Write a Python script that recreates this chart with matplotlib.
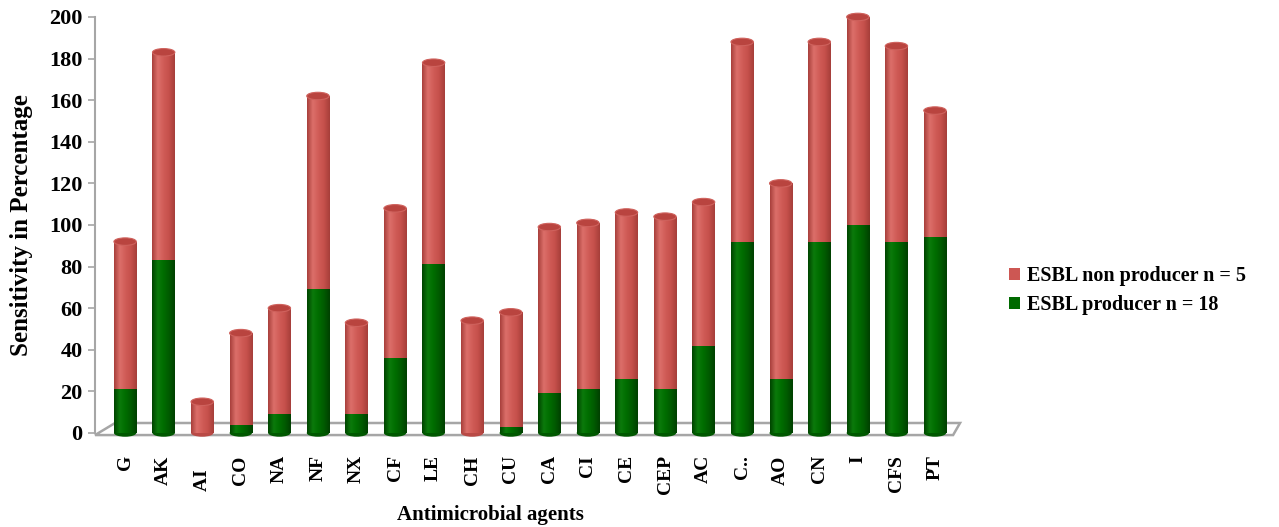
import numpy as np
import matplotlib
matplotlib.use("Agg")
import matplotlib.pyplot as plt
from matplotlib.patches import Ellipse, Polygon, Patch
from matplotlib.colors import LinearSegmentedColormap

plt.rcParams['font.family'] = ['Liberation Serif', 'DejaVu Serif']
plt.rcParams['font.weight'] = 'bold'

# Antimicrobial agents on the x axis
agents = ['G', 'AK', 'AI   ', 'CO', 'NA', 'NF', 'NX', 'CF', 'LE', 'CH', 'CU',
          'CA', 'CI', 'CE', 'CEP', 'AC', 'C..', 'AO', 'CN', 'I', 'CFS', 'PT']

# Sensitivity (%) of the two groups, stacked
producer = [21, 83, 0, 4, 9, 69, 9, 36, 81, 0, 3,
            19, 21, 26, 21, 42, 92, 26, 92, 100, 92, 94]
non_producer = [71, 100, 15, 44, 51, 93, 44, 72, 97, 54, 55,
                80, 80, 80, 83, 69, 96, 94, 96, 100, 94, 61]

yticks = np.arange(0, 201, 20)

green = '#006a00'
red = '#cd5753'

# horizontal shading so the bars look like cylinders
cm_green = LinearSegmentedColormap.from_list(
    'cg', ['#004400', '#0b7a0b', '#006d00', '#005a00', '#004000'])
cm_red = LinearSegmentedColormap.from_list(
    'cr', ['#a8403c', '#dc6f6a', '#d05c57', '#c5504b', '#a63e3a'])
grad = np.linspace(0, 1, 64).reshape(1, -1)

fig = plt.figure(figsize=(12.79, 5.27), dpi=100)
ax = fig.add_axes([0.0743, 0.1784, 0.6724, 0.7894])

x = np.arange(len(agents))
w = 0.58
prod = np.array(producer, dtype=float)
nonp = np.array(non_producer, dtype=float)
top = prod + nonp
eh = 3.6  # ellipse height in data units

# floor of the plot
floor = Polygon([(-0.78, -1.0), (-0.26, 4.8), (21.65, 4.8), (21.47, -1.0)],
                closed=True, facecolor='white', edgecolor='#a6a6a6',
                linewidth=1.8, clip_on=False, zorder=1)
ax.add_patch(floor)

b1 = ax.bar(x, prod, width=w, color=green, linewidth=0, zorder=3)
b2 = ax.bar(x, nonp, bottom=prod, width=w, color=red, linewidth=0, zorder=3)

for bars, cm in [(b1, cm_green), (b2, cm_red)]:
    for r in bars:
        if r.get_height() <= 0:
            continue
        x0, y0 = r.get_x(), r.get_y()
        im = ax.imshow(grad, cmap=cm, aspect='auto', zorder=3.05,
                       extent=(x0, x0 + r.get_width(), y0, y0 + r.get_height()))
        im.set_clip_path(r)

for i in range(len(agents)):
    base_col = '#005800' if prod[i] > 0 else '#b94a46'
    ax.add_patch(Ellipse((x[i], 0), w, eh, facecolor=base_col,
                         edgecolor='none', clip_on=False, zorder=2.9))
    ax.add_patch(Ellipse((x[i], top[i]), w, eh, facecolor='#b9443f',
                         edgecolor='#cf625d', linewidth=0.8,
                         clip_on=False, zorder=4))

ax.set_xlim(-0.78, 21.52)
ax.set_ylim(0, 200)
ax.set_aspect('auto')
ax.set_yticks(yticks)
ax.set_yticklabels([str(v) for v in yticks], fontsize=16, fontweight='bold')
ax.set_xticks(x)
ax.set_xticklabels(agents, rotation=90, fontsize=14, fontweight='bold')
ax.tick_params(axis='x', length=0, pad=16)
ax.tick_params(axis='y', length=5, color='#a6a6a6', width=1.2, pad=4)

for s in ['top', 'right', 'bottom']:
    ax.spines[s].set_visible(False)
ax.spines['left'].set_color('#a6a6a6')
ax.spines['left'].set_linewidth(1.5)

ax.set_ylabel('Sensitivity in Percentage', fontsize=18, fontweight='bold')
ax.yaxis.set_label_coords(-0.072, 0.5)
ax.set_xlabel('Antimicrobial agents', fontsize=15, fontweight='bold')
ax.xaxis.set_label_coords(0.46, -0.172)

handles = [Patch(facecolor=red, label='ESBL non producer n = 5'),
           Patch(facecolor=green, label='ESBL producer n = 18')]
fig.legend(handles=handles, loc='upper left', bbox_to_anchor=(0.775, 0.53),
           frameon=False, handlelength=0.55, handleheight=0.55,
           handletextpad=0.35, labelspacing=0.45,
           prop={'weight': 'bold', 'size': 14.5})

fig.savefig('out.png', dpi=100)
